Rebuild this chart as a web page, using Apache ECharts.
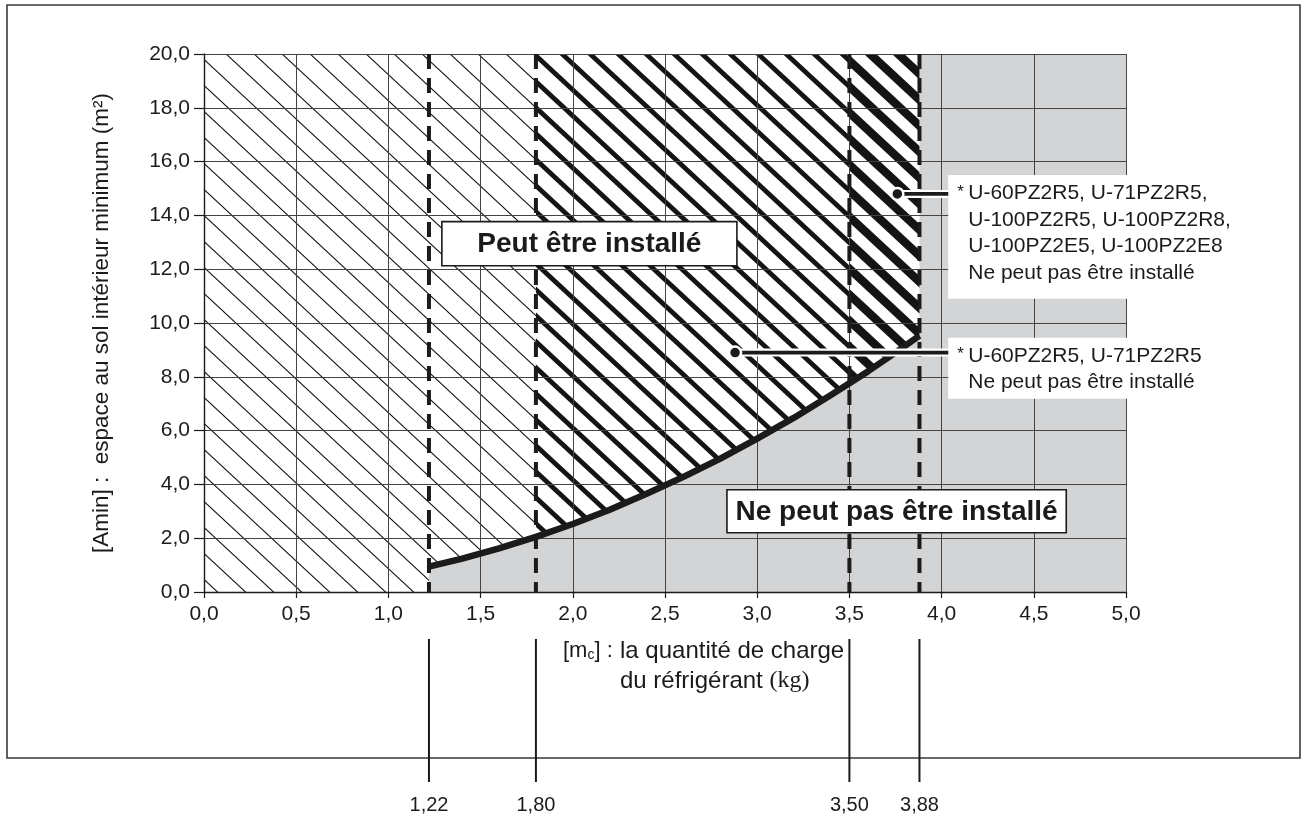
<!DOCTYPE html>
<html>
<head>
<meta charset="utf-8">
<script src="https://cdn.jsdelivr.net/npm/echarts@6/dist/echarts.min.js"></script>
<style>
  html, body { margin: 0; padding: 0; background: #fff; }
  #chart { width: 1308px; height: 817px; }
</style>
</head>
<body>
<div id="chart"></div>
<script>
// Minimum floor area against refrigerant charge
const xTickLabels = ['0,0', '0,5', '1,0', '1,5', '2,0', '2,5', '3,0', '3,5', '4,0', '4,5', '5,0'];
const yTickLabels = ['0,0', '2,0', '4,0', '6,0', '8,0', '10,0', '12,0', '14,0', '16,0', '18,0', '20,0'];

// limit curve: charge (kg) and minimum area (m²)
const curveCharge = [1.22, 1.40, 1.60, 1.80, 2.00, 2.20, 2.40, 2.60, 2.80, 3.00, 3.20, 3.40, 3.50, 3.60, 3.75, 3.88];
const curveArea   = [0.94, 1.24, 1.62, 2.05, 2.53, 3.06, 3.65, 4.28, 4.96, 5.70, 6.48, 7.32, 7.76, 8.20, 8.90, 9.53];

// charge limits marked by dashed lines
const chargeLimits = [1.22, 1.80, 3.50, 3.88];
const chargeLimitLabels = ['1,22', '1,80', '3,50', '3,88'];

const labelOk = 'Peut être installé';
const labelNo = 'Ne peut pas être installé';
const noteUpper = ['U-60PZ2R5, U-71PZ2R5,', 'U-100PZ2R5, U-100PZ2R8,', 'U-100PZ2E5, U-100PZ2E8', 'Ne peut pas être installé'];
const noteLower = ['U-60PZ2R5, U-71PZ2R5', 'Ne peut pas être installé'];

const X_MAX = 5, Y_MAX = 20;
const INK = '#1c1a1b';
const FONT = '"Liberation Sans", Arial, Helvetica, sans-serif';

function hatch(lineWidth) {
  const w = 28, h = 26;
  const c = document.createElement('canvas');
  c.width = w; c.height = h;
  const ctx = c.getContext('2d');
  ctx.strokeStyle = '#141414';
  ctx.lineWidth = lineWidth;
  for (let k = -1; k <= 1; k++) {
    ctx.beginPath();
    ctx.moveTo(k * w - w, -h);
    ctx.lineTo(k * w + 2 * w, 2 * h);
    ctx.stroke();
  }
  return { image: c, repeat: 'repeat' };
}

function curveSlice(a, b) {
  const pts = [];
  for (let i = 0; i < curveCharge.length; i++) {
    if (curveCharge[i] >= a - 1e-9 && curveCharge[i] <= b + 1e-9) pts.push([curveCharge[i], curveArea[i]]);
  }
  return pts;
}

const [c1, c2, c3, c4] = chargeLimits;
const zones = [
  { fill: '#d3d4d6', pts: [[c1, 0], ...curveSlice(c1, c4), [c4, Y_MAX], [X_MAX, Y_MAX], [X_MAX, 0]] },
  { fill: hatch(1.1), pts: [[0, 0], [0, Y_MAX], [c2, Y_MAX], ...curveSlice(c1, c2).reverse(), [c1, 0]] },
  { fill: hatch(4.8), pts: [[c2, Y_MAX], [c3, Y_MAX], ...curveSlice(c2, c3).reverse()] },
  { fill: hatch(8.4), pts: [[c3, Y_MAX], [c4, Y_MAX], ...curveSlice(c3, c4).reverse()] }
];

const measureCtx = document.createElement('canvas').getContext('2d');
function textWidth(str, font) { measureCtx.font = font; return measureCtx.measureText(str).width; }

function labelBox(api, p0, p1, text) {
  const a = api.coord(p0), b = api.coord(p1);
  return [
    { type: 'rect', shape: { x: a[0], y: a[1], width: b[0] - a[0], height: b[1] - a[1] },
      style: { fill: '#fff', stroke: INK, lineWidth: 1.6 } },
    { type: 'text', style: { x: (a[0] + b[0]) / 2, y: (a[1] + b[1]) / 2 + 1, text: text,
      font: 'bold 28px ' + FONT, fill: INK, align: 'center', verticalAlign: 'middle' } }
  ];
}

function note(api, dot, boxLeft, boxTop, boxBottom, lines) {
  const d = api.coord(dot);
  const tl = api.coord([boxLeft, boxTop]);
  const br = api.coord([boxLeft, boxBottom]);
  const out = [
    { type: 'rect', shape: { x: tl[0], y: tl[1], width: 330, height: br[1] - tl[1] }, style: { fill: '#fff' } },
    { type: 'line', shape: { x1: d[0], y1: d[1], x2: tl[0], y2: d[1] }, style: { stroke: '#fff', lineWidth: 8 } },
    { type: 'line', shape: { x1: d[0], y1: d[1], x2: tl[0], y2: d[1] }, style: { stroke: INK, lineWidth: 3.6 } },
    { type: 'circle', shape: { cx: d[0], cy: d[1], r: 6 }, style: { fill: INK, stroke: '#fff', lineWidth: 2.5 } },
    { type: 'text', style: { x: tl[0] + 9, y: tl[1] + 17, text: '*', font: '17px ' + FONT, fill: INK,
      align: 'left', verticalAlign: 'middle' } }
  ];
  lines.forEach((t, i) => {
    out.push({ type: 'text', style: { x: tl[0] + 20, y: tl[1] + 18 + i * 26.7, text: t,
      font: '21px ' + FONT, fill: INK, align: 'left', verticalAlign: 'middle' } });
  });
  return out;
}

// x-axis title pieces
const titleFont = '24px ' + FONT;
const tagFont = '22px ' + FONT;
const subFont = '14px ' + FONT;
const serifFont = '24px "Liberation Serif", "Times New Roman", serif';
const tX = 563, tY1 = 651, tY2 = 681, tX2 = 620;
const wM = textWidth('[m', tagFont);
const wC = textWidth('c', subFont);
const wDu = textWidth('du réfrigérant ', titleFont);

const option = {
  animation: false,
  backgroundColor: '#fff',
  grid: { left: 204, right: 182, top: 54, bottom: 225, containLabel: false },
  xAxis: {
    type: 'value', min: 0, max: X_MAX, interval: 0.5,
    axisLine: { show: true, onZero: false, lineStyle: { color: INK, width: 1.4 } },
    axisTick: { show: true, length: 6, lineStyle: { color: INK, width: 1.2 } },
    axisLabel: { margin: 12, fontSize: 21, fontFamily: FONT, color: INK,
      formatter: v => xTickLabels[Math.round(v / 0.5)] },
    splitLine: { show: true, lineStyle: { color: '#444', width: 1 } }
  },
  yAxis: {
    type: 'value', min: 0, max: Y_MAX, interval: 2,
    name: '[Amin] :  espace au sol intérieur minimum (m²)',
    nameLocation: 'middle', nameRotate: 90, nameGap: 91,
    nameTextStyle: { fontSize: 22.5, fontFamily: FONT, color: INK },
    axisLine: { show: true, onZero: false, lineStyle: { color: INK, width: 1.4 } },
    axisTick: { show: true, length: 10, lineStyle: { color: INK, width: 1.2 } },
    axisLabel: { margin: 14, fontSize: 21, fontFamily: FONT, color: INK,
      formatter: v => yTickLabels[Math.round(v / 2)] },
    splitLine: { show: true, lineStyle: { color: '#444', width: 1 } }
  },
  graphic: [
    { type: 'rect', shape: { x: 7, y: 5, width: 1293, height: 753 },
      style: { fill: 'none', stroke: '#3a3a3a', lineWidth: 1.6 }, z: 0 },
    { type: 'text', x: tX, y: tY1, style: { text: '[m', font: tagFont, fill: INK, verticalAlign: 'middle' } },
    { type: 'text', x: tX + wM, y: tY1 + 4, style: { text: 'c', font: subFont, fill: INK, verticalAlign: 'middle' } },
    { type: 'text', x: tX + wM + wC, y: tY1, style: { text: '] :', font: tagFont, fill: INK, verticalAlign: 'middle' } },
    { type: 'text', x: tX2, y: tY1, style: { text: 'la quantité de charge', font: titleFont, fill: INK, verticalAlign: 'middle' } },
    { type: 'text', x: tX2, y: tY2, style: { text: 'du réfrigérant ', font: titleFont, fill: INK, verticalAlign: 'middle' } },
    { type: 'text', x: tX2 + wDu, y: tY2, style: { text: '(kg)', font: serifFont, fill: INK, verticalAlign: 'middle' } }
  ],
  series: [
    {
      // filled zones: grey (not allowed) and hatched bands
      type: 'custom', z: -1, silent: true,
      data: zones.map((_, i) => [i, 0]),
      renderItem: (params, api) => {
        const zone = zones[params.dataIndex];
        return { type: 'polygon', shape: { points: zone.pts.map(p => api.coord(p)) }, style: { fill: zone.fill } };
      }
    },
    {
      // limit curve
      type: 'line', z: 4, silent: true, symbol: 'none', smooth: false,
      data: curveCharge.map((x, i) => [x, curveArea[i]]),
      lineStyle: { color: INK, width: 6.5, cap: 'butt', join: 'round' }
    },
    {
      // dashed charge limits with their values below the frame
      type: 'custom', z: 5, silent: true, clip: false,
      data: chargeLimits.map(v => [v, 0]),
      renderItem: (params, api) => {
        const x = chargeLimits[params.dataIndex];
        const bottom = api.coord([x, 0]);
        const top = api.coord([x, Y_MAX]);
        return {
          type: 'group',
          children: [
            { type: 'line', shape: { x1: top[0], y1: top[1], x2: bottom[0], y2: bottom[1] },
              style: { stroke: INK, lineWidth: 4, lineDash: [15, 9] } },
            { type: 'line', shape: { x1: bottom[0], y1: bottom[1] + 47, x2: bottom[0], y2: bottom[1] + 190 },
              style: { stroke: INK, lineWidth: 2 } },
            { type: 'text', style: { x: bottom[0], y: bottom[1] + 213, text: chargeLimitLabels[params.dataIndex],
              font: '20px ' + FONT, fill: INK, align: 'center', verticalAlign: 'middle' } }
          ]
        };
      }
    },
    {
      // zone labels and model notes
      type: 'custom', z: 6, silent: true, clip: false,
      data: [[0, 0]],
      renderItem: (params, api) => ({
        type: 'group',
        children: [
          ...labelBox(api, [1.29, 13.77], [2.89, 12.13], labelOk),
          ...labelBox(api, [2.836, 3.80], [4.676, 2.20], labelNo),
          ...note(api, [3.76, 14.8], 4.036, 15.5, 10.9, noteUpper),
          ...note(api, [2.88, 8.9], 4.036, 9.45, 7.18, noteLower)
        ]
      })
    }
  ]
};

const chart = echarts.init(document.getElementById('chart'));
chart.setOption(option);
</script>
</body>
</html>
